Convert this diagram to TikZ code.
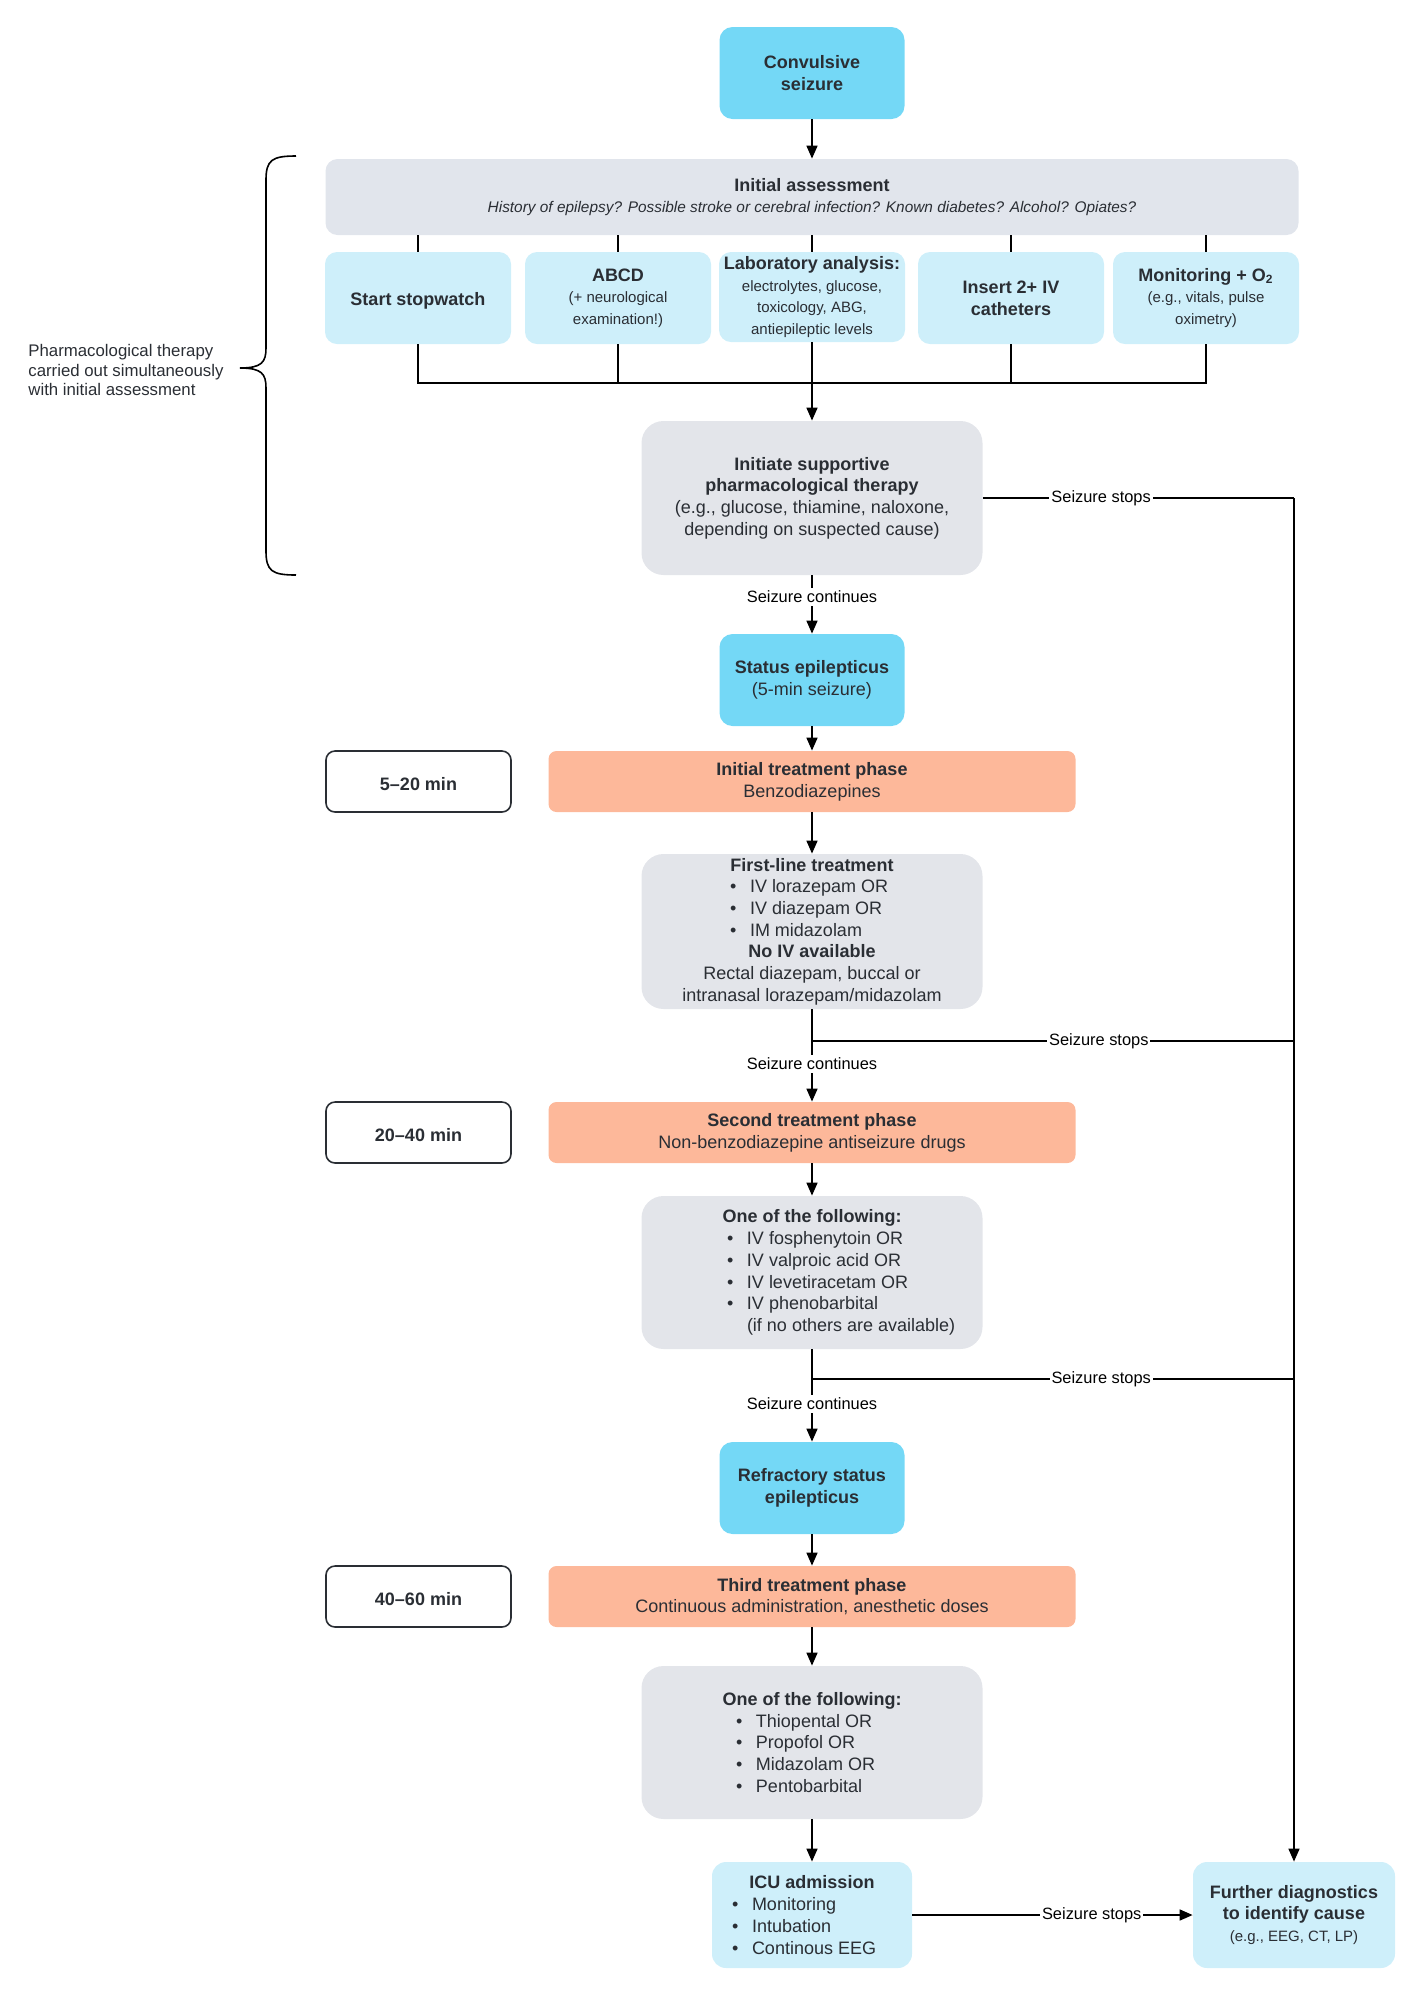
\documentclass[tikz,border=0pt]{standalone}
\usepackage{fontspec}
\setmainfont{Liberation Sans}
\usetikzlibrary{arrows.meta}
\definecolor{cyanB}{RGB}{116,216,246}
\definecolor{lblue}{RGB}{206,239,250}
\definecolor{gbox}{RGB}{227,229,234}
\definecolor{iagray}{RGB}{225,229,236}
\definecolor{salmon}{RGB}{253,184,154}
\definecolor{txt}{RGB}{42,46,52}
\newcommand\fsz[2]{\fontsize{#1}{#2}\selectfont}
\newcommand\bitem[2]{\makebox[#1][l]{\makebox[10pt][l]{\textbullet}#2}}
\tikzset{
  base/.style={align=center, text=txt, inner sep=1pt, font=\fsz{9}{10.85}, execute at begin node={\rule{0pt}{9.4pt}}},
  cyanbox/.style={base, fill=cyanB, rounded corners=6.5pt, minimum width=92.5pt, minimum height=46pt, font=\fsz{9}{10.85}\bfseries},
  iabox/.style={base, fill=iagray, rounded corners=6pt, minimum width=486.5pt, minimum height=38pt},
  subbox/.style={base, fill=lblue, rounded corners=6pt, minimum width=93pt, minimum height=46pt},
  graybox/.style={base, fill=gbox, rounded corners=11pt, minimum width=170.5pt, minimum height=77pt},
  phasebox/.style={base, fill=salmon, rounded corners=4pt, minimum width=263.5pt, minimum height=30.5pt},
  timebox/.style={base, draw=txt, line width=0.8pt, fill=white, rounded corners=4.5pt, minimum width=92.5pt, minimum height=30.5pt, font=\fsz{9}{10.85}\bfseries},
  endbox/.style={base, fill=lblue, rounded corners=7pt, minimum width=100pt, minimum height=53pt},
  lab/.style={fill=white, text=black, font=\fsz{8.2}{9.6}, inner xsep=1pt, inner ysep=1.5pt},
  arr/.style={-{Triangle[length=6.5pt,width=5.5pt]}},
  conn/.style={draw=black, line width=0.8pt}
}
\begin{document}
\begin{tikzpicture}[x=0.5pt,y=-0.5pt]
\useasboundingbox (0,0) rectangle (1422,1999);

% main column
\node[cyanbox] (conv) at (812,73) {Convulsive\\seizure};
\node[iabox] (ia) at (812,197) {\textbf{Initial assessment}\\{\fsz{7.7}{10.85}\itshape History of epilepsy? Possible stroke or cerebral infection? Known diabetes? Alcohol? Opiates?}};

\node[subbox] (s1) at (418,298) {\textbf{Start stopwatch}};
\node[subbox] (s2) at (618,298) {\textbf{ABCD}\\{\fsz{7.5}{10.85}(+ neurological}\\{\fsz{7.5}{10.85}examination!)}};
\node[subbox, minimum height=45pt] (s3) at (812,297) {\textbf{Laboratory analysis:}\\{\fsz{7.5}{10.85}electrolytes, glucose,}\\{\fsz{7.5}{10.85}toxicology, ABG,}\\{\fsz{7.5}{10.85}antiepileptic levels}};
\node[subbox] (s4) at (1011,298) {\textbf{Insert 2+ IV}\\\textbf{catheters}};
\node[subbox] (s5) at (1206,298) {\textbf{Monitoring + O\textsubscript{2}}\\{\fsz{7.5}{10.85}(e.g., vitals, pulse}\\{\fsz{7.5}{10.85}oximetry)}};

\node[graybox] (sup) at (812,498) {\textbf{Initiate supportive}\\\textbf{pharmacological therapy}\\(e.g., glucose, thiamine, naloxone,\\depending on suspected cause)};

\node[cyanbox] (stat) at (812,680) {Status epilepticus\\\mdseries(5-min seizure)};

\node[phasebox] (p1) at (812,781.5) {\textbf{Initial treatment phase}\\Benzodiazepines};
\node[timebox] (t1) at (418.5,781.5) {5–20 min};

\node[graybox, minimum height=77.5pt] (fl) at (812,931.5) {\textbf{First-line treatment}\\\bitem{82pt}{IV lorazepam OR}\\\bitem{82pt}{IV diazepam OR}\\\bitem{82pt}{IM midazolam}\\\textbf{No IV available}\\Rectal diazepam, buccal or\\intranasal lorazepam/midazolam};

\node[phasebox] (p2) at (812,1132.5) {\textbf{Second treatment phase}\\Non-benzodiazepine antiseizure drugs};
\node[timebox] (t2) at (418.5,1132.5) {20–40 min};

\node[graybox, minimum height=76.5pt] (b2) at (812,1272.5) {\textbf{One of the following:}\\\bitem{85pt}{IV fosphenytoin OR}\\\bitem{85pt}{IV valproic acid OR}\\\bitem{85pt}{IV levetiracetam OR}\\\bitem{85pt}{IV phenobarbital}\\\makebox[85pt][l]{\hspace{10pt}(if no others are available)}};

\node[cyanbox] (ref) at (812,1488) {Refractory status\\epilepticus};

\node[phasebox] (p3) at (812,1596.5) {\textbf{Third treatment phase}\\Continuous administration, anesthetic doses};
\node[timebox] (t3) at (418.5,1596.5) {40–60 min};

\node[graybox, minimum height=76.5pt] (b3) at (812,1742.5) {\textbf{One of the following:}\\\bitem{76pt}{Thiopental OR}\\\bitem{76pt}{Propofol OR}\\\bitem{76pt}{Midazolam OR}\\\bitem{76pt}{Pentobarbital}};

\node[endbox] (icu) at (812,1915) {\textbf{ICU admission}\\\bitem{80pt}{Monitoring}\\\bitem{80pt}{Intubation}\\\bitem{80pt}{Continous EEG}};
\node[endbox, minimum width=101pt] (fd) at (1294,1915) {\textbf{Further diagnostics}\\\textbf{to identify cause}\\{\fsz{7.5}{10.85}(e.g., EEG, CT, LP)}};

% brace and its note
\draw[line width=0.8pt] (296,156) .. controls (272,156) and (266,160) .. (266,180) -- (266,348) .. controls (266,362) and (262,368) .. (240,368);
\draw[line width=0.8pt] (296,575) .. controls (272,575) and (266,571) .. (266,551) -- (266,388) .. controls (266,374) and (262,368) .. (240,368);
\node[anchor=west, align=left, text=txt, font=\fsz{8.4}{9.9}, inner sep=0pt] (pharm) at (28,370) {Pharmacological therapy\\carried out simultaneously\\with initial assessment};

% connectors
\coordinate (join) at (812,383);
\draw[conn, arr] (conv) -- (ia);
\foreach \s in {s1,s2,s3,s4,s5} { \draw[conn] (\s.north |- ia.south) -- (\s.north); }
\draw[conn] (s1.south) -- (s1.south |- join) -- (s5.south |- join) -- (s5.south);
\draw[conn] (s2.south) -- (s2.south |- join);
\draw[conn] (s4.south) -- (s4.south |- join);
\draw[conn, arr] (s3.south) -- (sup.north);

\coordinate (rtop) at (fd.north |- sup.east);
\draw[conn] (sup.east) -- node[lab, pos=0.38] {Seizure stops} (rtop);
\draw[conn, arr] (rtop) -- (fd.north);

\draw[conn, arr] (sup.south) -- node[lab, pos=0.37] {Seizure continues} (stat.north);
\draw[conn, arr] (stat) -- (p1);
\draw[conn, arr] (p1) -- (fl);

\coordinate (br1) at (812,1041);
\draw[conn, arr] (fl.south) -- node[lab, pos=0.59] {Seizure continues} (p2.north);
\draw[conn] (br1) -- node[lab, pos=0.595] {Seizure stops} (fd.north |- br1);
\draw[conn, arr] (p2) -- (b2);

\coordinate (br2) at (812,1379);
\draw[conn, arr] (b2.south) -- node[lab, pos=0.59] {Seizure continues} (ref.north);
\draw[conn] (br2) -- node[lab, pos=0.6] {Seizure stops} (fd.north |- br2);
\draw[conn, arr] (ref) -- (p3);
\draw[conn, arr] (p3) -- (b3);
\draw[conn, arr] (b3) -- (icu);
\draw[conn, arr] (icu.east) -- node[lab, pos=0.64] {Seizure stops} (fd.west);
\end{tikzpicture}
\end{document}
